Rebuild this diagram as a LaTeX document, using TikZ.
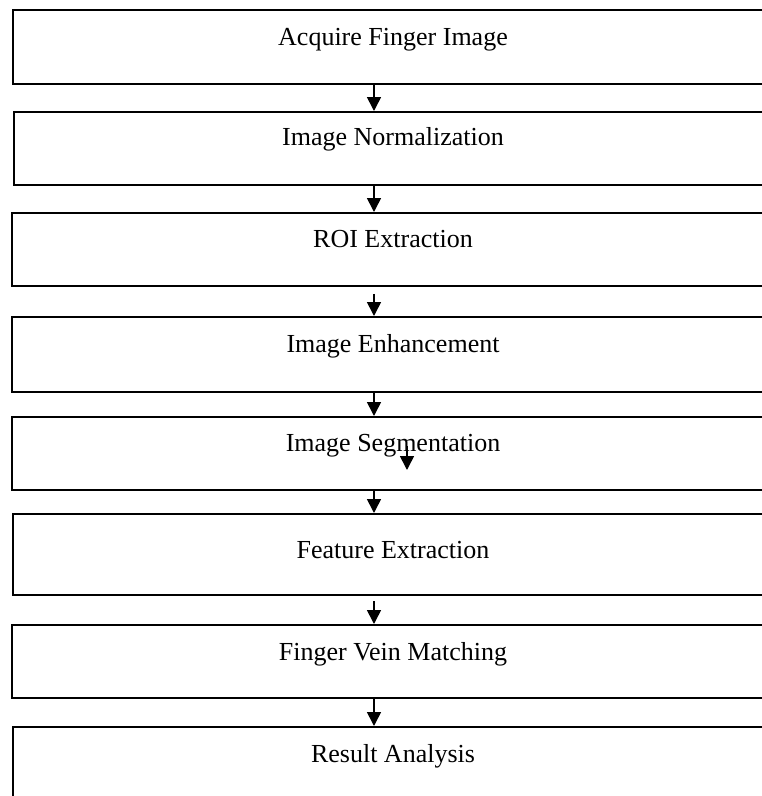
\documentclass[tikz,border=0pt]{standalone}
\usepackage{fontspec}
\setmainfont{Liberation Serif}
\usetikzlibrary{arrows.meta}

\begin{document}
\begin{tikzpicture}[
    x=0.02cm,y=-0.02cm,
    stage/.style={rectangle,draw,line width=1pt,anchor=north west,
                  minimum width=15.24cm,minimum height=1.46cm,inner sep=0pt},
    lbl/.style={anchor=base,inner sep=0pt,font=\fontsize{14.8pt}{17pt}\selectfont},
    >={Triangle[width=2.8mm,length=2.8mm]},line width=0.9pt
  ]
    \useasboundingbox (0,0) rectangle (762,796);
    \clip (0,0) rectangle (762,796);

    % stage boxes, top to bottom
    \node[stage,minimum height=1.48cm] (acq) at (12,9) {};
    \node[stage] (norm) at (13,111) {};
    \node[stage] (roi)  at (11,212) {};
    \node[stage,minimum height=1.50cm] (enh) at (11,316) {};
    \node[stage] (seg)  at (11,416) {};
    \node[stage,minimum height=1.62cm] (feat) at (12,513) {};
    \node[stage] (match) at (11,624) {};
    \node[stage,minimum height=1.50cm] (res) at (12,726) {};

    \node[lbl] (tacq)   at (393,45)  {Acquire Finger Image};
    \node[lbl] (tnorm)  at (393,145) {Image Normalization};
    \node[lbl] (troi)   at (393,247) {ROI Extraction};
    \node[lbl] (tenh)   at (393,352) {Image Enhancement};
    \node[lbl] (tseg)   at (393,451) {Image Segmentation};
    \node[lbl] (tfeat)  at (393,558) {Feature Extraction};
    \node[lbl] (tmatch) at (393,660) {Finger Vein Matching};
    \node[lbl] (tres)   at (393,762) {Result Analysis};

    % arrows between stages
    \coordinate (ax) at (374,0);
    \draw[->] (acq.south -| ax) -- (norm.north -| ax);
    \draw[->] (norm.south -| ax) -- (roi.north -| ax);
    \draw[->,shorten <=4pt] (roi.south -| ax) -- (enh.north -| ax);
    \draw[->] (enh.south -| ax) -- (seg.north -| ax);
    \draw[->] (seg.south -| ax) -- (feat.north -| ax);
    \draw[->,shorten <=3pt] (feat.south -| ax) -- (match.north -| ax);
    \draw[->] (match.south -| ax) -- (res.north -| ax);

    \coordinate (sa) at (407,446);
    \coordinate (sb) at (407,470);
    \draw[->] (sa) -- (sb);
  \end{tikzpicture}
\end{document}
